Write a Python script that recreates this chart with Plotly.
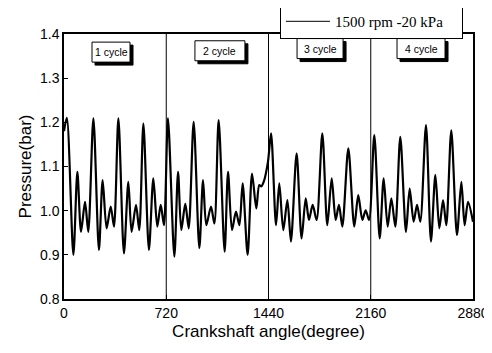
import plotly.graph_objects as go

# Crank angle (deg) and pressure (bar) at the turning points of the trace
angle = [0, 20, 66, 94, 120, 148, 171, 207, 246, 272, 300, 329, 352, 383, 422, 453, 476, 507, 530, 559,
         598, 629, 657, 681, 704, 732, 777, 803, 826, 854, 878, 913, 953, 979, 1002, 1035, 1059, 1089,
         1131, 1155, 1183, 1211, 1235, 1258, 1293, 1324, 1354, 1375, 1389, 1406, 1436, 1458, 1493, 1516,
         1544, 1573, 1598, 1638, 1673, 1702, 1725, 1751, 1779, 1819, 1854, 1885, 1913, 1936, 1960, 2002,
         2044, 2072, 2101, 2124, 2148, 2185, 2223, 2251, 2279, 2305, 2333, 2368, 2408, 2434, 2462, 2486,
         2509, 2549, 2584, 2615, 2643, 2669, 2692, 2727, 2767, 2798, 2821, 2845, 2880]
pressure = [1.18, 1.21, 0.90, 1.088, 0.952, 1.020, 0.952, 1.209, 0.911, 1.069, 0.960, 1.009, 0.964, 1.209,
            0.903, 1.065, 0.952, 1.013, 0.956, 1.197, 0.911, 1.073, 0.964, 1.013, 0.967, 1.209, 0.896,
            1.088, 0.956, 1.016, 0.960, 1.201, 0.915, 1.069, 0.967, 1.009, 0.971, 1.205, 0.907, 1.088,
            0.956, 0.998, 0.967, 1.062, 0.900, 1.084, 1.005, 1.058, 1.055, 1.065, 1.110, 1.175, 0.967,
            1.062, 0.956, 1.024, 0.930, 1.130, 0.937, 1.028, 0.979, 1.013, 0.979, 1.175, 0.967, 1.073,
            0.979, 1.013, 0.964, 1.141, 0.964, 1.035, 0.979, 1.001, 0.979, 1.171, 0.937, 1.073, 0.964,
            1.028, 0.964, 1.167, 0.952, 1.050, 0.975, 1.013, 0.975, 1.194, 0.930, 1.081, 0.960, 1.024,
            0.967, 1.182, 0.945, 1.065, 0.967, 1.020, 0.975]

series_name = "1500 rpm -20 kPa"
x_ticks = [0, 720, 1440, 2160, 2880]
y_ticks = [0.8, 0.9, 1.0, 1.1, 1.2, 1.3, 1.4]
y_tick_labels = ["0.8", "0.9", "1.0", "1.1", "1.2", "1.3", "1.4"]
cycle_bounds = [720, 1440, 2160]
cycle_labels = ["1 cycle", "2 cycle", "3 cycle", "4 cycle"]
cycle_label_x = [331, 1098, 1803, 2514]
cycle_label_y = [1.359, 1.362, 1.367, 1.367]
box_w = [38, 50, 46, 48]  # label box widths, px
box_h = 20

fig = go.Figure()
fig.add_trace(go.Scatter(x=angle, y=pressure, mode="lines", name=series_name, showlegend=False,
                         line=dict(color="black", width=2.2, shape="spline", smoothing=0.8)))
# legend entry (thin line sample as in the original)
fig.add_trace(go.Scatter(x=[None], y=[None], mode="lines", name=series_name, showlegend=True,
                         line=dict(color="black", width=1)))

for b in cycle_bounds:
    fig.add_shape(type="line", xref="x", yref="y", x0=b, x1=b, y0=0.8, y1=1.4,
                  line=dict(color="black", width=1))

for t, cx, cy, w in zip(cycle_labels, cycle_label_x, cycle_label_y, box_w):
    # drop shadow
    fig.add_shape(type="rect", xref="x", yref="y", xsizemode="pixel", ysizemode="pixel",
                  xanchor=cx, yanchor=cy, x0=-w / 2 + 3, x1=w / 2 + 3, y0=-box_h / 2 - 3, y1=box_h / 2 - 3,
                  fillcolor="black", line=dict(color="black", width=1))
    # box
    fig.add_shape(type="rect", xref="x", yref="y", xsizemode="pixel", ysizemode="pixel",
                  xanchor=cx, yanchor=cy, x0=-w / 2, x1=w / 2, y0=-box_h / 2, y1=box_h / 2,
                  fillcolor="white", line=dict(color="black", width=1))
    fig.add_annotation(x=cx, y=cy, xref="x", yref="y", text=t, showarrow=False,
                       font=dict(family="Liberation Sans, Arial", size=10.5, color="black"))

fig.update_layout(
    width=492, height=353,
    margin=dict(l=56, r=27, t=26, b=62, autoexpand=False),
    paper_bgcolor="white", plot_bgcolor="white",
    showlegend=True,
    legend=dict(x=0.528, y=1.113, xanchor="left", yanchor="top", orientation="h",
                bordercolor="black", borderwidth=1, bgcolor="white",
                font=dict(family="Liberation Serif, Times New Roman", size=15, color="black"),
                entrywidth=122, itemwidth=44),
    font=dict(family="Liberation Sans, Arial", color="black"),
)
fig.update_xaxes(range=[0, 2880], tickvals=x_ticks, ticktext=[str(v) for v in x_ticks],
                 showgrid=False, zeroline=False, showline=True, linecolor="black", linewidth=1.5,
                 mirror=True, ticks="inside", ticklen=4, tickcolor="black", automargin=False,
                 tickfont=dict(size=14), title=dict(text="Crankshaft angle(degree)", font=dict(size=17), standoff=6))
fig.update_yaxes(range=[0.8, 1.4], tickvals=y_ticks, ticktext=y_tick_labels,
                 showgrid=False, zeroline=False, showline=True, linecolor="black", linewidth=1.5,
                 mirror=True, ticks="inside", ticklen=4, tickcolor="black", automargin=False,
                 tickfont=dict(size=14), title=dict(text="Pressure(bar)", font=dict(size=17), standoff=4))

fig.write_html("out.html")
